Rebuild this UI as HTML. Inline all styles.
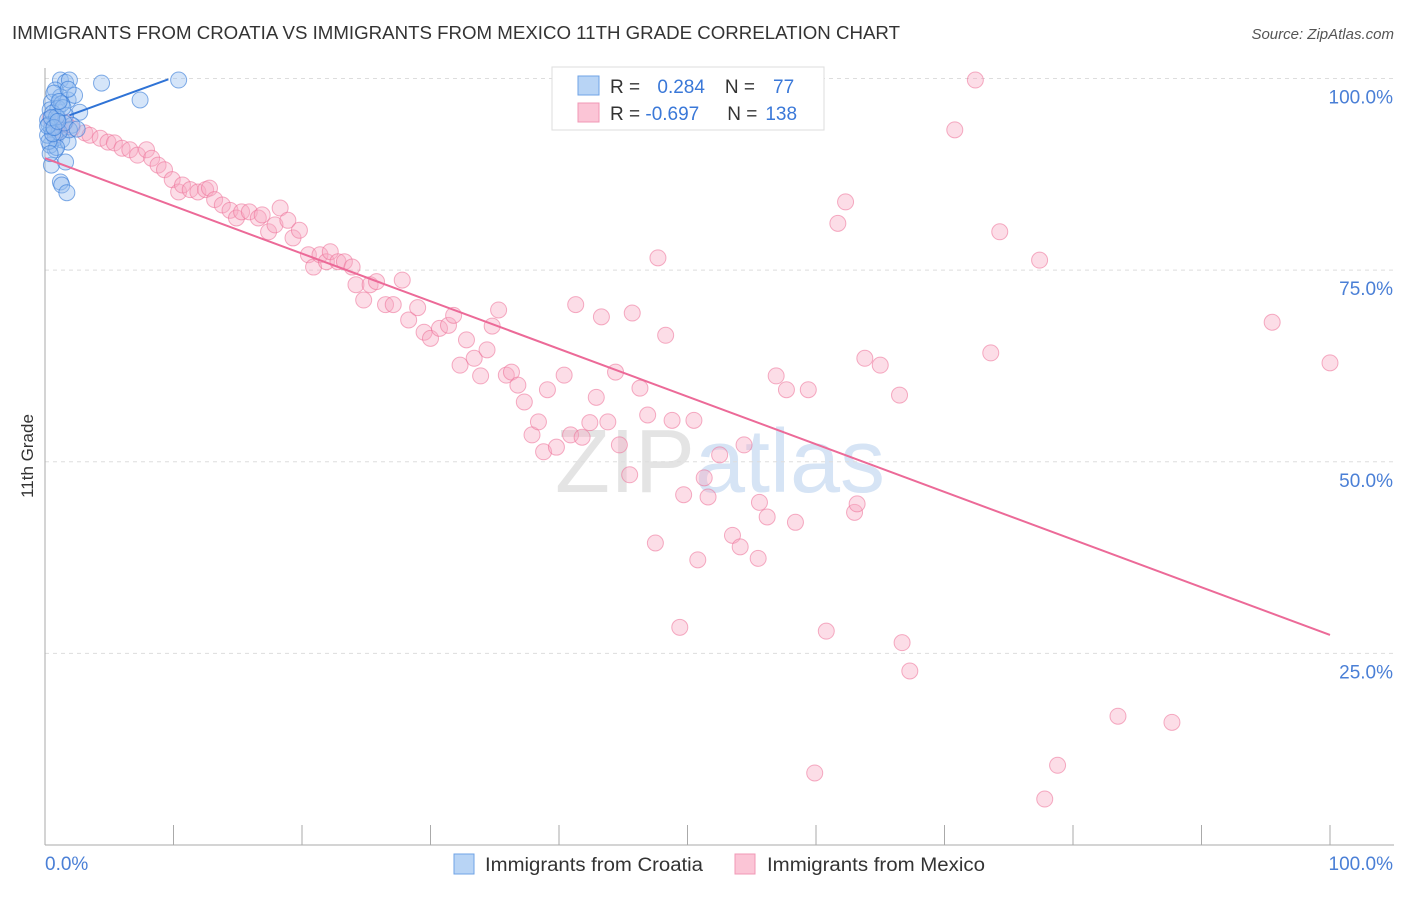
<!DOCTYPE html>
<html><head><meta charset="utf-8"><style>
body{margin:0;background:#fff;font-family:"Liberation Sans",sans-serif}
svg text{font-family:"Liberation Sans",sans-serif}
</style></head><body>
<svg id="chart" width="1406" height="892" viewBox="0 0 1406 892">
<text x="12" y="39" font-size="18" fill="#333" textLength="888" lengthAdjust="spacingAndGlyphs">IMMIGRANTS FROM CROATIA VS IMMIGRANTS FROM MEXICO 11TH GRADE CORRELATION CHART</text>
<text x="1394" y="39" font-size="15" fill="#555" text-anchor="end" font-style="italic">Source: ZipAtlas.com</text>
<text transform="translate(33,456) rotate(-90)" font-size="17" fill="#333" text-anchor="middle">11th Grade</text>
<text x="720" y="492" font-size="90" text-anchor="middle" fill="#e4e4e4" font-family="Liberation Serif">ZIP<tspan fill="#d6e4f5" font-family="Liberation Sans">atlas</tspan></text>
<g id="grid"></g><g id="axes"></g><g id="marks"></g>
<g>
<rect x="552" y="67" width="272" height="63" fill="#fff" stroke="#ddd"/>
<rect x="578" y="76" width="21" height="19" fill="#b8d4f5" stroke="#6fa3e6"/>
<rect x="578" y="103" width="21" height="19" fill="#fbc5d6" stroke="#f098b6"/>
<text x="610" y="93" font-size="19" fill="#333">R = <tspan fill="#3a78d8" dx="12">0.284</tspan><tspan dx="20" fill="#333">N =</tspan><tspan dx="18" fill="#3a78d8">77</tspan></text>
<text x="610" y="120" font-size="19" fill="#333">R = <tspan fill="#3a78d8">-0.697</tspan><tspan dx="28" fill="#333">N =</tspan><tspan dx="8" fill="#3a78d8">138</tspan></text>
</g>
<g>
<rect x="454" y="854" width="20" height="20" fill="#b8d4f5" stroke="#6fa3e6"/>
<text x="485" y="871" font-size="19" fill="#333" textLength="218" lengthAdjust="spacingAndGlyphs">Immigrants from Croatia</text>
<rect x="735" y="854" width="20" height="20" fill="#fbc5d6" stroke="#f098b6"/>
<text x="767" y="871" font-size="19" fill="#333" textLength="218" lengthAdjust="spacingAndGlyphs">Immigrants from Mexico</text>
</g>
</svg>
<script>
const yTicks=[25,50,75,100];
const yTickLabels=["25.0%","50.0%","75.0%","100.0%"];
const xTickCount=10;
const croX=[0.5,0.8,1.2,1.3,1.7,1.6,1.2,1.6,1.9,4.4,7.4,10.4,0.8,1.2,1.8,2.3,2.7,0.5,0.4,1.0,0.2,0.5,0.8,1.3,1.8,0.4,1.0,1.6,2.1,0.2,0.7,1.8,1.3,0.9,1.9,0.3,0.6,1.1,1.5,2.5,0.3,0.6,0.9,1.4,0.2,0.5,1.1,0.4,0.7,1.0];
const croY=[88.7,90.7,86.5,86.1,85.1,89.1,99.8,99.5,99.8,99.4,97.2,99.8,98.5,97.6,97.2,97.8,95.6,96.9,95.9,96.1,94.6,93.5,92.2,92.0,91.7,91.3,94.8,95.2,93.9,92.6,98.1,98.6,96.7,91.0,93.3,94.0,95.5,93.0,94.2,93.4,91.8,92.8,95.0,96.2,93.8,94.9,97.0,90.2,93.6,94.4];
const mexX=[0.9,1.2,1.6,2.1,3.1,3.5,4.3,4.9,5.4,6.0,6.6,7.2,7.9,8.3,8.8,9.3,9.9,10.4,10.7,11.3,11.9,12.5,12.8,13.2,13.8,14.4,14.9,15.3,15.9,16.6,16.9,17.4,17.9,18.3,18.9,19.3,19.8,20.5,20.9,21.4,21.9,22.2,22.8,23.3,23.9,24.2,24.8,25.3,25.8,26.5,27.1,27.8,28.3,29.0,29.5,30.0,30.7,31.4,31.8,32.3,32.8,33.4,33.9,34.4,34.8,35.3,35.9,36.3,36.8,37.3,37.9,38.4,38.8,39.1,39.8,40.4,40.9,41.3,41.8,42.4,42.9,43.3,43.8,44.4,44.7,45.5,45.7,46.3,46.9,47.5,47.7,48.3,48.8,49.4,49.7,50.5,50.8,51.3,51.6,52.5,53.5,54.1,54.4,55.5,55.6,56.2,56.9,57.7,58.4,59.4,59.9,60.8,61.7,62.3,63.0,63.2,63.8,65.0,66.5,66.7,67.3,70.8,72.4,73.6,74.3,77.4,77.8,78.8,83.5,87.7,95.5,100,0.4,0.8];
const mexY=[93.9,93.3,94.3,93.5,92.9,92.6,92.2,91.7,91.6,90.9,90.7,90.0,90.7,89.6,88.7,88.1,86.8,85.2,86.1,85.5,85.2,85.5,85.7,84.2,83.5,82.8,81.8,82.6,82.6,81.8,82.2,80.0,80.9,83.1,81.5,79.2,80.2,77.0,75.4,77.0,76.1,77.4,76.1,76.1,75.4,73.1,71.1,73.1,73.5,70.5,70.5,73.7,68.5,70.1,66.9,66.1,67.4,67.8,69.1,62.6,65.9,63.5,61.2,64.6,67.7,69.8,61.3,61.7,60.0,57.8,53.5,55.2,51.3,59.4,51.9,61.3,53.5,70.5,53.2,55.1,58.4,68.9,55.2,61.7,52.2,48.3,69.4,59.6,56.1,39.4,76.6,66.5,55.4,28.4,45.7,55.4,37.2,47.9,45.4,50.9,40.4,38.9,52.2,37.4,44.7,42.8,61.2,59.4,42.1,59.4,9.4,27.9,81.1,83.9,43.4,44.5,63.5,62.6,58.7,26.4,22.7,93.3,99.8,64.2,80.0,76.3,6.0,10.4,16.8,16.0,68.2,62.9,94.8,92.6];
const croTrend=[1.9,95.2,9.6,99.9];
const mexTrend=[0,89.6,100,27.4];
const NS="http://www.w3.org/2000/svg";
const X0=45,X1=1330,YT=78.5,YB=845;
function sx(v){return X0+(X1-X0)*v/100;}
function sy(v){return YB-(YB-YT)*v/100;}
function mk(tag,attrs,parent){const e=document.createElementNS(NS,tag);for(const k in attrs)e.setAttribute(k,attrs[k]);document.getElementById(parent).appendChild(e);return e;}
yTicks.forEach((t,i)=>{
 const l=mk('line',{x1:X0,x2:1394,y1:sy(t),y2:sy(t),stroke:'#ddd','stroke-dasharray':'4,4'},'grid');
 
 
 const tx=mk('text',{x:1393,y:sy(t)+25,'font-size':19,fill:'#4a7fd6','text-anchor':'end'},'grid');
 tx.textContent=yTickLabels[i];
 
 
});
const ax=mk('line',{x1:X0,x2:X0,y1:68,y2:YB,stroke:'#aaa'},'axes');


const bx=mk('line',{x1:X0,x2:1394,y1:YB,y2:YB,stroke:'#aaa'},'axes');


for(let i=1;i<=xTickCount;i++){const t=mk('line',{x1:sx(i*10),x2:sx(i*10),y1:825,y2:YB,stroke:'#aaa'},'axes');
 
 }
const xl=mk('text',{x:45,y:870,'font-size':19,fill:'#4a7fd6'},'axes');xl.textContent='0.0%';


const xr=mk('text',{x:1393,y:870,'font-size':19,fill:'#4a7fd6','text-anchor':'end'},'axes');xr.textContent='100.0%';


mexX.forEach((v,i)=>{const c=mk('circle',{cx:sx(v),cy:sy(mexY[i]),r:8,fill:'rgba(248,170,195,0.4)',stroke:'rgba(236,110,150,0.55)','stroke-width':1},'marks');
 
 });
croX.forEach((v,i)=>{const c=mk('circle',{cx:sx(v),cy:sy(croY[i]),r:8,fill:'rgba(150,190,240,0.4)',stroke:'rgba(50,120,215,0.6)','stroke-width':1},'marks');
 
 });
const ml=mk('line',{x1:sx(mexTrend[0]),y1:sy(mexTrend[1]),x2:sx(mexTrend[2]),y2:sy(mexTrend[3]),stroke:'#ec6a98','stroke-width':2},'marks');


const cl=mk('line',{x1:sx(croTrend[0]),y1:sy(croTrend[1]),x2:sx(croTrend[2]),y2:sy(croTrend[3]),stroke:'#2f73d6','stroke-width':2},'marks');


</script>
</body></html>
